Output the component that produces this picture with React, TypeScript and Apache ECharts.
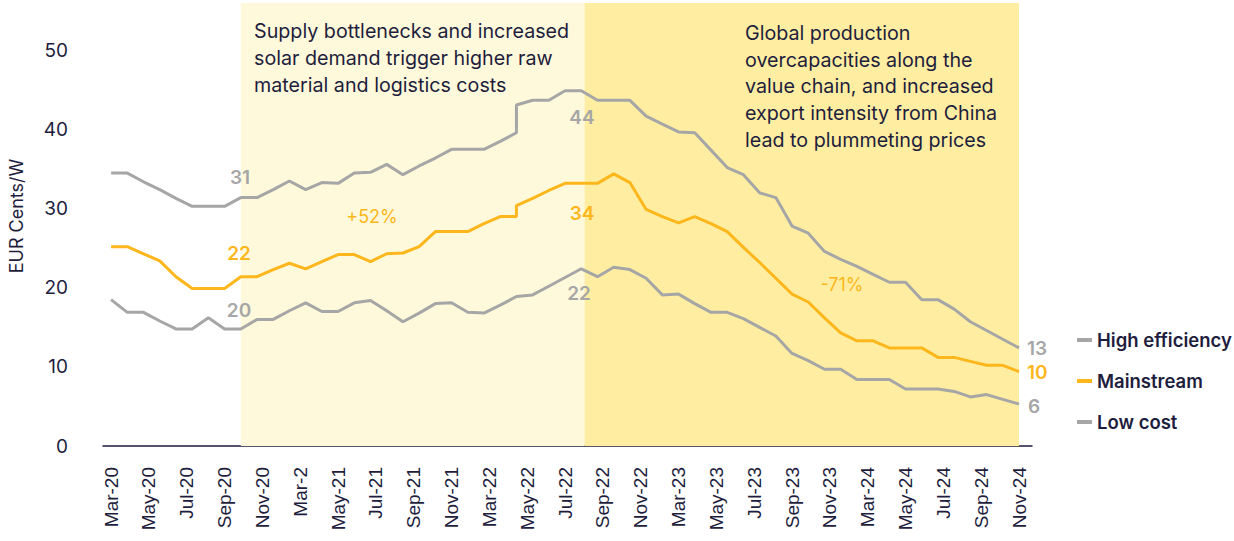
import React, { useEffect, useRef } from "react";
import * as echarts from "echarts";

// Monthly observations, Mar-20 .. Nov-24 (57 months)
const monthNames = ["Jan", "Feb", "Mar", "Apr", "May", "Jun", "Jul", "Aug", "Sep", "Oct", "Nov", "Dec"];
const months: string[] = [];
for (let i = 0; i < 57; i++) {
  const m = (2 + i) % 12;
  const y = 20 + Math.floor((2 + i) / 12);
  months.push(`${monthNames[m]}-${y}`);
}

// Tick labels exactly as printed on the original axis
const tickLabels = [
  "Mar-20", "May-20", "Jul-20", "Sep-20", "Nov-20", "Mar-2", "May-21", "Jul-21", "Sep-21", "Nov-21",
  "Mar-22", "May-22", "Jul-22", "Sep-22", "Nov-22", "Mar-23", "May-23", "Jul-23", "Sep-23", "Nov-23",
  "Mar-24", "May-24", "Jul-24", "Sep-24", "Nov-24",
];

const highEfficiency = [
  34.5, 34.5, 33.4, 32.4, 31.3, 30.3, 30.3, 30.3, 31.4, 31.4,
  32.4, 33.5, 32.4, 33.3, 33.2, 34.5, 34.6, 35.6, 34.3, 35.4,
  36.4, 37.5, 37.5, 37.5, 38.5, 39.6, 43.7, 43.7, 44.9, 44.9,
  43.7, 43.7, 43.7, 41.7, 40.7, 39.7, 39.6, 37.4, 35.2, 34.3,
  32.0, 31.4, 27.8, 26.9, 24.6, 23.6, 22.7, 21.7, 20.7, 20.7,
  18.5, 18.5, 17.3, 15.7, 14.6, 13.5, 12.4,
];
const mainstream = [
  25.2, 25.2, 24.3, 23.4, 21.4, 19.9, 19.9, 19.9, 21.4, 21.4,
  22.3, 23.1, 22.4, 23.3, 24.2, 24.2, 23.3, 24.3, 24.4, 25.2,
  27.1, 27.1, 27.1, 28.1, 29.0, 29.0, 31.3, 32.3, 33.2, 33.2,
  33.2, 34.4, 33.3, 29.9, 29.0, 28.2, 29.0, 28.1, 27.1, 25.1,
  23.2, 21.2, 19.2, 18.2, 16.2, 14.3, 13.3, 13.3, 12.4, 12.4,
  12.4, 11.2, 11.2, 10.7, 10.2, 10.2, 9.4,
];
const lowCost = [
  18.5, 16.9, 16.9, 15.8, 14.8, 14.8, 16.2, 14.8, 14.8, 16.0,
  16.0, 17.1, 18.1, 17.0, 17.0, 18.1, 18.4, 17.1, 15.7, 16.8,
  18.0, 18.1, 16.9, 16.8, 17.8, 18.9, 19.1, 20.2, 21.3, 22.4,
  21.4, 22.6, 22.3, 21.2, 19.1, 19.2, 18.0, 16.9, 16.9, 16.1,
  15.0, 13.9, 11.7, 10.8, 9.7, 9.7, 8.4, 8.4, 8.4, 7.2,
  7.2, 7.2, 6.9, 6.2, 6.5, 5.9, 5.3,
];
// Within Apr-22 two series jump to a new level
const stepMonthIndex = 25;
const highEfficiencyAfterStep = 43.1;
const mainstreamAfterStep = 30.4;

const phaseLight = [8, 29.2];
const phaseDark = [29.2, 56];
const yTicks = [0, 10, 20, 30, 40, 50];

const GRAY = "#A6A6A6";
const ORANGE = "#FDB71C";
const NAVY = "#1E1D3D";
const LIGHT = "#FFF9DB";
const DARK = "#FFEEA1";
const FONT = "Inter, 'Noto Sans', sans-serif";

function buildData(values: number[], after?: number) {
  const out: [number, number][] = [];
  values.forEach((v, i) => {
    out.push([i, v]);
    if (after !== undefined && i === stepMonthIndex) out.push([i, after]);
  });
  return out;
}

export default function App() {
  const ref = useRef<HTMLDivElement>(null);
  useEffect(() => {
    if (!ref.current) return;
    const chart = echarts.init(ref.current, undefined, { renderer: "svg" });
    const tickPos = tickLabels.map((_, i) => (i * (months.length - 1)) / (tickLabels.length - 1));
    const valueLabel = (text: string, x: number, y: number, color: string, weight = 600, size = 19) => ({
      type: "text",
      x,
      y,
      z: 100,
      style: { text, fill: color, font: `${weight} ${size}px ${FONT}`, align: "center", verticalAlign: "middle" },
    });
    const annotation = (text: string, x: number, y: number) => ({
      type: "text",
      x,
      y,
      z: 100,
      style: { text, fill: NAVY, font: `400 19.7px ${FONT}`, lineHeight: 26.7, align: "left", verticalAlign: "top" },
    });
    chart.setOption({
      animation: false,
      grid: { left: 103, right: 202, top: 3, bottom: 95, containLabel: false },
      xAxis: {
        type: "value",
        min: -0.5,
        max: 56.8,
        axisLine: { show: true, lineStyle: { color: NAVY, width: 1.5 } },
        axisTick: { show: false },
        splitLine: { show: false },
        axisLabel: {
          customValues: tickPos,
          rotate: 90,
          margin: 21,
          fontSize: 19,
          fontFamily: "'Liberation Sans', Arial, sans-serif",
          color: NAVY,
          formatter: (v: number) => tickLabels[Math.round((v * (tickLabels.length - 1)) / (months.length - 1))] ?? "",
        },
      },
      yAxis: {
        type: "value",
        min: 0,
        max: 56,
        interval: 10,
        axisLine: { show: false },
        axisTick: { show: false },
        splitLine: { show: false },
        axisLabel: {
          customValues: yTicks,
          margin: 35,
          fontSize: 19,
          fontFamily: FONT,
          color: NAVY,
        },
      },
      legend: {
        orient: "vertical",
        left: 1072,
        top: 325,
        itemWidth: 15,
        itemHeight: 4,
        itemGap: 21,
        icon: "rect",
        data: ["High efficiency", "Mainstream", "Low cost"],
        textStyle: { fontFamily: FONT, fontSize: 18.5, fontWeight: 600, color: NAVY, lineHeight: 20 },
      },
      series: [
        {
          type: "line",
          name: "phases",
          data: buildData(lowCost),
          symbol: "none",
          lineStyle: { opacity: 0 },
          z: 1,
          silent: true,
          markArea: {
            silent: true,
            data: [
              [{ xAxis: phaseLight[0], itemStyle: { color: LIGHT } }, { xAxis: phaseLight[1] }],
              [{ xAxis: phaseDark[0], itemStyle: { color: DARK } }, { xAxis: phaseDark[1] }],
            ],
          },
        },
        {
          type: "line",
          name: "High efficiency",
          data: buildData(highEfficiency, highEfficiencyAfterStep),
          symbol: "none",
          lineStyle: { color: GRAY, width: 3 },
          itemStyle: { color: GRAY },
          z: 3,
        },
        {
          type: "line",
          name: "Mainstream",
          data: buildData(mainstream, mainstreamAfterStep),
          symbol: "none",
          lineStyle: { color: ORANGE, width: 3 },
          itemStyle: { color: ORANGE },
          z: 3,
        },
        {
          type: "line",
          name: "Low cost",
          data: buildData(lowCost),
          symbol: "none",
          lineStyle: { color: GRAY, width: 3 },
          itemStyle: { color: GRAY },
          z: 3,
        },
      ],
      graphic: [
        {
          type: "text",
          x: 16,
          y: 216,
          z: 100,
          rotation: Math.PI / 2,
          style: { text: "EUR Cents/W", fill: NAVY, font: `400 18px ${FONT}`, align: "center", verticalAlign: "middle" },
        },
        annotation("Supply bottlenecks and increased\nsolar demand trigger higher raw\nmaterial and logistics costs", 254, 18),
        annotation(
          "Global production\novercapacities along the\nvalue chain, and increased\nexport intensity from China\nlead to plummeting prices",
          745,
          19.5
        ),
        valueLabel("31", 240, 177, GRAY),
        valueLabel("22", 239, 253, ORANGE),
        valueLabel("20", 239, 310, GRAY),
        valueLabel("44", 582, 117, GRAY),
        valueLabel("34", 582, 213, ORANGE),
        valueLabel("22", 579, 293, GRAY),
        valueLabel("+52%", 372, 216, ORANGE, 400, 18),
        valueLabel("-71%", 842, 284, ORANGE, 400, 18),
        { type: "text", x: 1027, y: 348, z: 100, style: { text: "13", fill: GRAY, font: `600 19px ${FONT}`, verticalAlign: "middle" } },
        { type: "text", x: 1027, y: 372, z: 100, style: { text: "10", fill: ORANGE, font: `600 19px ${FONT}`, verticalAlign: "middle" } },
        { type: "text", x: 1028, y: 406, z: 100, style: { text: "6", fill: GRAY, font: `600 19px ${FONT}`, verticalAlign: "middle" } },
      ],
    });
    return () => chart.dispose();
  }, []);
  return <div ref={ref} style={{ width: 1234, height: 541, position: "absolute", left: 0, top: 0 }} />;
}
